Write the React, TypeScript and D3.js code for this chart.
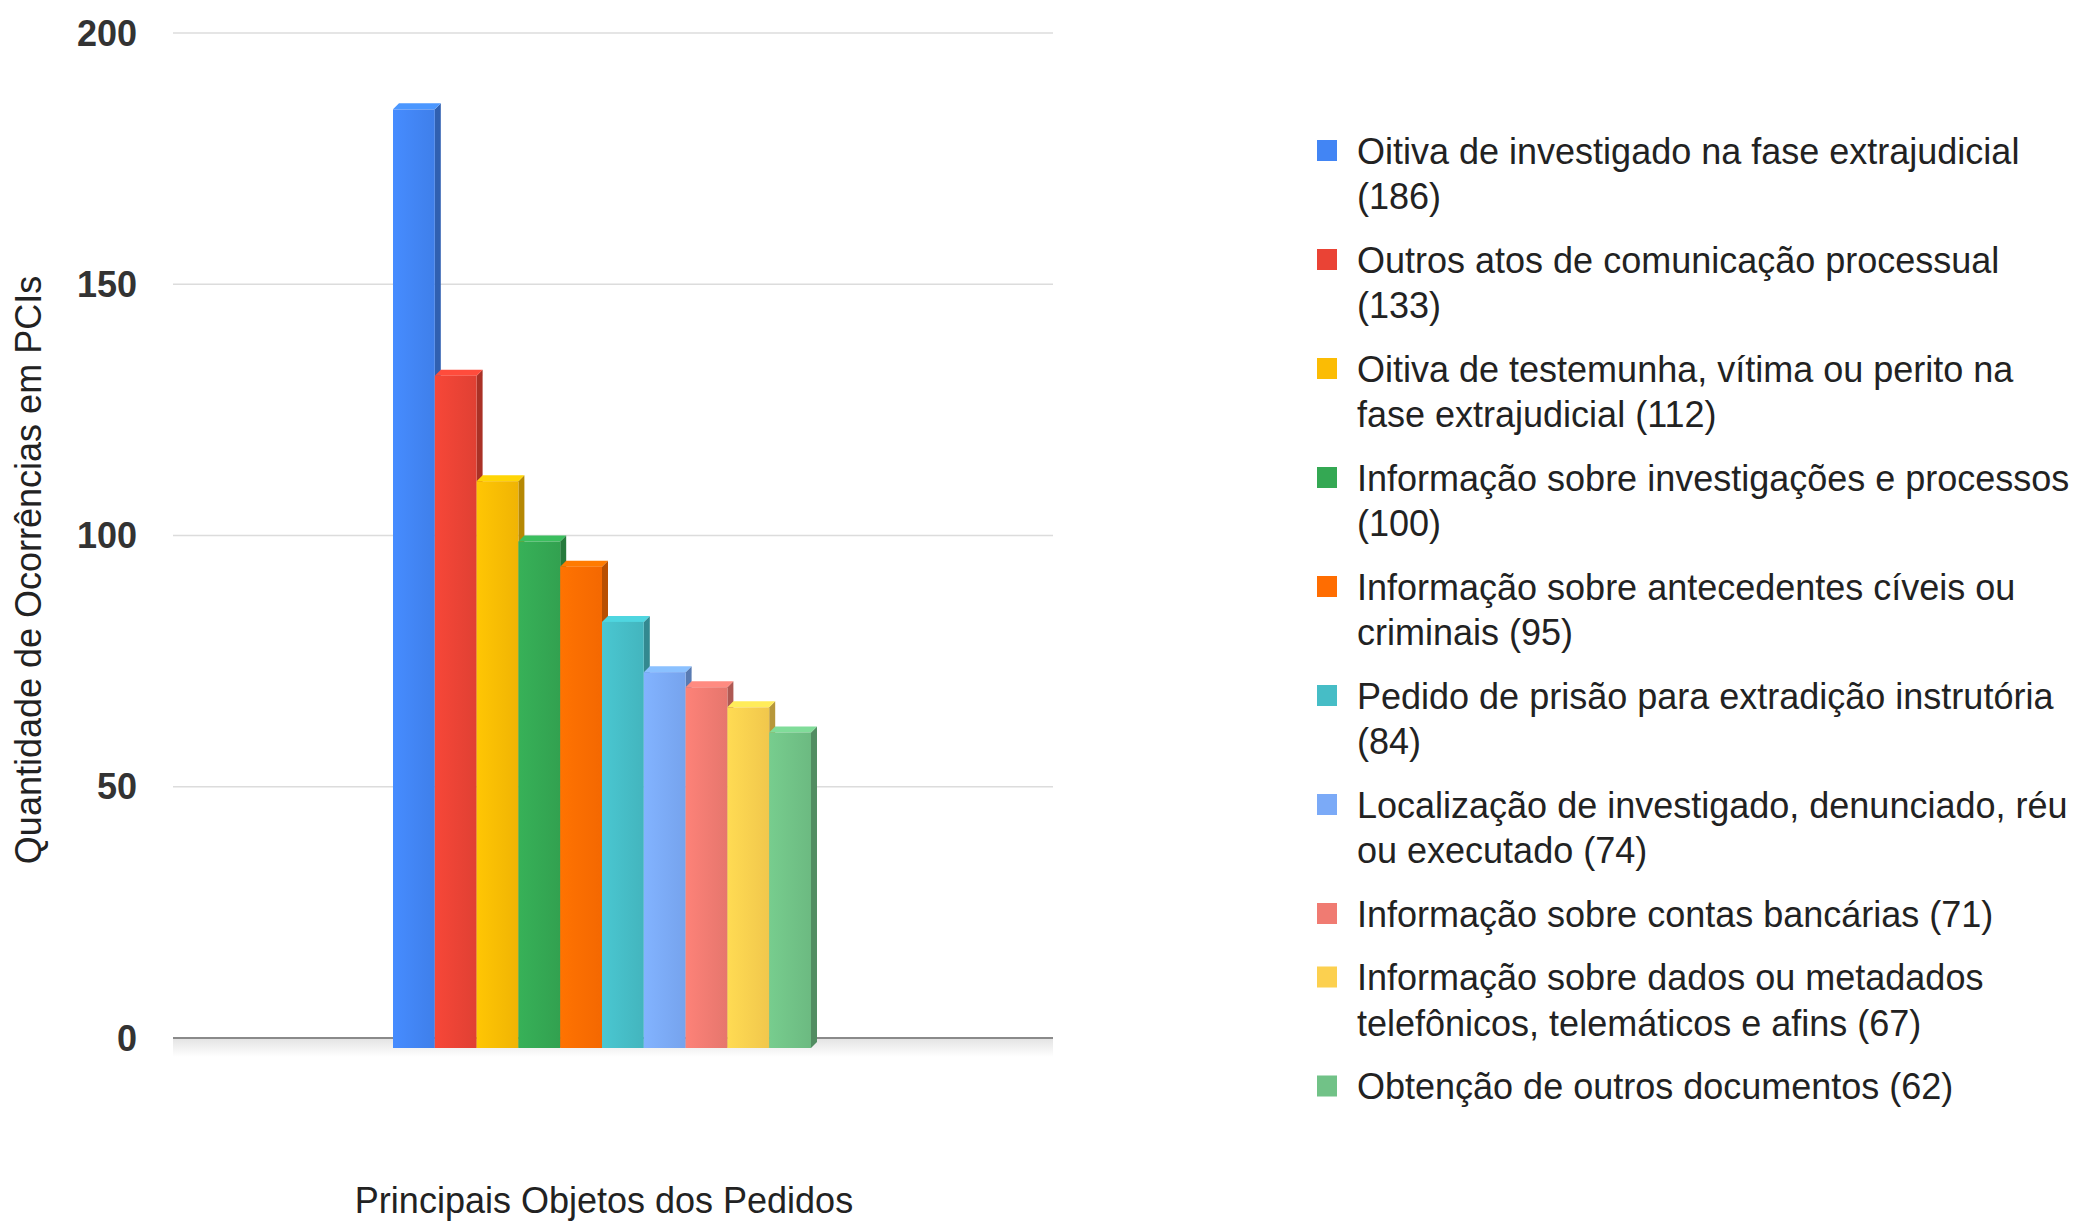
import React, { useEffect, useRef } from "react";
import * as d3 from "d3";

// categorias e valores
const categories = [
    "Oitiva de investigado na fase extrajudicial",
    "Outros atos de comunicação processual",
    "Oitiva de testemunha, vítima ou perito na fase extrajudicial",
    "Informação sobre investigações e processos",
    "Informação sobre antecedentes cíveis ou criminais",
    "Pedido de prisão para extradição instrutória",
    "Localização de investigado, denunciado, réu ou executado",
    "Informação sobre contas bancárias",
    "Informação sobre dados ou metadados telefônicos, telemáticos e afins",
    "Obtenção de outros documentos",
];
const values = [186, 133, 112, 100, 95, 84, 74, 71, 67, 62];
// quantas palavras ficam na primeira linha da legenda
const firstLineWords = [6, 5, 7, 5, 5, 6, 5, 99, 5, 99];
const colors = [
    "#4285F4", "#EA4335", "#FBBC04", "#34A853", "#FF6D01",
    "#46BDC6", "#7BAAF7", "#F07B72", "#FCD04F", "#71C287",
];
const yTicks = [0, 50, 100, 150, 200];
const yTitle = "Quantidade de Ocorrências em PCIs";
const xTitle = "Principais Objetos dos Pedidos";

const W = 2090;
const H = 1221;
const FONT = "'Liberation Sans', Arial, Helvetica, sans-serif";

export default function App() {
    const svgRef = useRef<SVGSVGElement>(null);

    useEffect(() => {
        const svg = d3.select(svgRef.current);
        svg.selectAll("*").remove();

        var plotLeft = 173;
        var plotRight = 1053;
        var depthX = 6;
        var depthY = 6;

        var y = d3.scaleLinear().domain([0, 200]).range([1038, 33]);
        var x = d3.scaleBand<number>()
            .domain(d3.range(values.length))
            .range([393, 817 - depthX])
            .padding(0);

        var defs = svg.append("defs");
        colors.forEach((c, i) => {
            var grad = defs.append("linearGradient")
                .attr("id", "front" + i)
                .attr("x1", "0").attr("x2", "1").attr("y1", "0").attr("y2", "0");
            grad.append("stop").attr("offset", "0%").attr("stop-color", d3.color(c)!.brighter(0.15).formatHex());
            grad.append("stop").attr("offset", "100%").attr("stop-color", d3.color(c)!.darker(0.12).formatHex());
        });
        var floor = defs.append("linearGradient")
            .attr("id", "floor")
            .attr("x1", "0").attr("x2", "0").attr("y1", "0").attr("y2", "1");
        floor.append("stop").attr("offset", "0%").attr("stop-color", "#e4e4e4");
        floor.append("stop").attr("offset", "100%").attr("stop-color", "#ffffff");

        var g = svg.append("g");

        // grade
        g.selectAll(".grid")
            .data(yTicks.filter(t => t > 0))
            .enter()
            .append("line")
            .attr("x1", plotLeft).attr("x2", plotRight)
            .attr("y1", d => y(d)).attr("y2", d => y(d))
            .attr("stroke", "#dcdcdc")
            .attr("stroke-width", 1.5);

        // piso
        g.append("rect")
            .attr("x", plotLeft).attr("y", y(0) + 1)
            .attr("width", plotRight - plotLeft).attr("height", 18)
            .attr("fill", "url(#floor)");

        g.append("line")
            .attr("x1", plotLeft).attr("x2", plotRight)
            .attr("y1", y(0)).attr("y2", y(0))
            .attr("stroke", "#8a8a8a")
            .attr("stroke-width", 2);

        // rótulos do eixo y
        g.selectAll(".ytick")
            .data(yTicks)
            .enter()
            .append("text")
            .attr("x", 137)
            .attr("y", d => y(d))
            .attr("dy", "0.35em")
            .attr("text-anchor", "end")
            .style("font-family", FONT)
            .style("font-size", "36px")
            .style("font-weight", "bold")
            .style("fill", "#333")
            .text(d => d);

        // barras 3D
        values.forEach((v, i) => {
            var x0 = x(i)!;
            var bw = x.bandwidth();
            var top = y(v) + depthY;
            var bottom = y(0) + 10;
            var bar = g.append("g");
            // lateral
            bar.append("path")
                .attr("d", `M${x0 + bw},${top} L${x0 + bw + depthX},${top - depthY} L${x0 + bw + depthX},${bottom - depthY} L${x0 + bw},${bottom} Z`)
                .attr("fill", d3.color(colors[i])!.darker(0.9).formatHex());
            // topo
            bar.append("path")
                .attr("d", `M${x0},${top} L${x0 + depthX},${top - depthY} L${x0 + bw + depthX},${top - depthY} L${x0 + bw},${top} Z`)
                .attr("fill", d3.color(colors[i])!.brighter(0.35).formatHex());
            // frente
            bar.append("rect")
                .attr("x", x0).attr("y", top)
                .attr("width", bw).attr("height", bottom - top)
                .attr("fill", `url(#front${i})`);
        });

        // títulos dos eixos
        g.append("text")
            .attr("transform", `translate(41,570) rotate(-90)`)
            .attr("text-anchor", "middle")
            .style("font-family", FONT)
            .style("font-size", "36px")
            .style("fill", "#222")
            .text(yTitle);

        g.append("text")
            .attr("x", 604).attr("y", 1213)
            .attr("text-anchor", "middle")
            .style("font-family", FONT)
            .style("font-size", "36px")
            .style("fill", "#222")
            .text(xTitle);

        // legenda
        var lineH = 45.5;
        var gap = 18;
        var cy = 151;
        categories.forEach((c, i) => {
            var words = (c + " (" + values[i] + ")").split(" ");
            var lines = [words.slice(0, firstLineWords[i]).join(" "), words.slice(firstLineWords[i]).join(" ")].filter(s => s.length > 0);
            var item = g.append("g");
            item.append("rect")
                .attr("x", 1317).attr("y", cy - 11)
                .attr("width", 20).attr("height", 21)
                .attr("fill", colors[i]);
            lines.forEach((l, k) => {
                item.append("text")
                    .attr("x", 1357)
                    .attr("y", cy + k * lineH)
                    .attr("dy", "0.35em")
                    .style("font-family", FONT)
                    .style("font-size", "36px")
                    .style("fill", "#222")
                    .text(l);
            });
            cy += lines.length * lineH + gap;
        });
    }, []);

    return (
        <svg ref={svgRef} width={W} height={H}
            style={{ position: "absolute", left: 0, top: 0, background: "#fff" }} />
    );
}
